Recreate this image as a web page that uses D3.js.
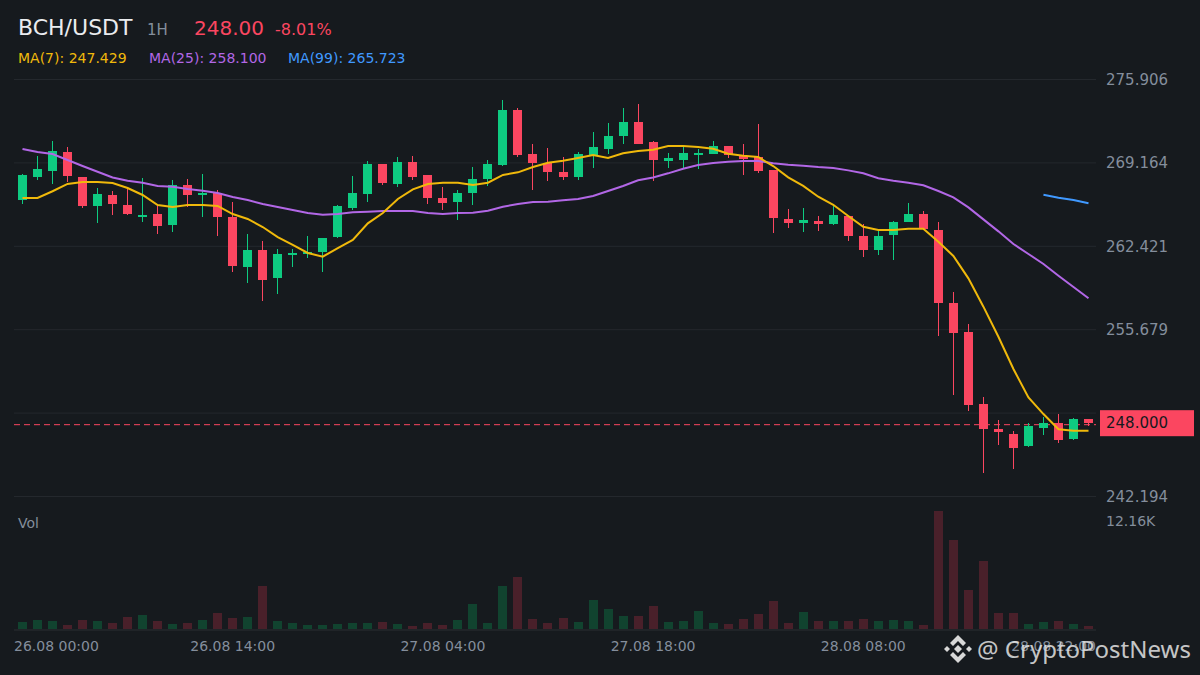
<!DOCTYPE html>
<html>
<head>
<meta charset="utf-8" />
<title>BCH/USDT</title>
<script src="https://cdnjs.cloudflare.com/ajax/libs/d3/7.9.0/d3.min.js"></script>
<style>
  html, body { margin: 0; padding: 0; background: #161a1e; overflow: hidden; }
  svg { display: block; font-family: "DejaVu Sans", sans-serif; }
</style>
</head>
<body>
<div id="svg-container"></div>
<script>
////////////////////////////////////////////////////////////////////
////////////////////////////  Data  ////////////////////////////////
const opens = [266.16,268.02,268.51,270.04,268.02,265.68,266.57,265.76,264.79,265.03,264.14,267.38,266.57,266.73,264.79,260.75,262.12,259.86,261.72,261.80,261.96,263.17,265.52,266.65,269.07,267.46,269.24,268.19,266.33,266.00,266.73,267.86,268.99,273.44,269.88,269.15,268.43,268.02,269.80,270.29,271.34,272.47,270.85,269.32,269.40,269.80,269.88,270.53,269.72,269.64,268.59,264.63,264.30,264.47,264.22,264.87,263.25,262.12,263.34,264.39,265.03,263.74,257.84,255.49,249.67,247.65,247.25,246.28,247.73,248.14,246.84,248.46];
const closes = [268.19,268.67,270.13,268.10,265.68,266.65,265.84,265.03,264.95,264.06,267.38,266.57,266.73,264.79,260.83,262.12,259.70,261.80,261.88,261.96,263.09,265.68,266.73,269.07,267.54,269.24,268.02,266.33,265.92,266.73,267.86,269.07,273.44,269.80,269.15,268.43,268.02,269.88,270.45,271.34,272.47,270.69,269.40,269.56,269.96,269.96,270.53,269.80,269.48,268.51,264.71,264.30,264.55,264.22,264.95,263.25,262.12,263.25,264.39,265.03,263.82,257.84,255.41,249.59,247.65,247.41,246.12,247.89,248.14,246.76,248.46,248.14];
const highs = [268.27,269.72,270.93,270.45,268.02,267.13,266.89,267.05,267.94,265.76,267.78,267.86,268.27,266.97,266.00,263.42,262.85,262.20,262.20,263.25,263.09,265.76,268.10,269.32,269.07,269.64,269.72,268.19,267.21,266.97,268.83,269.40,274.25,273.60,270.69,270.37,269.64,270.04,271.66,272.39,273.60,273.93,270.93,269.96,270.45,270.29,270.93,270.53,270.69,272.31,268.59,265.44,265.52,264.87,265.68,264.87,264.22,263.74,264.47,265.92,265.27,264.39,258.73,256.14,250.24,248.38,247.49,248.14,248.62,248.86,248.54,248.46];
const lows = [265.84,267.78,267.46,267.62,265.52,264.30,264.95,264.95,264.39,263.42,263.58,265.60,264.79,263.25,260.34,259.45,258.00,258.57,260.75,261.48,260.34,263.09,265.36,266.00,267.38,267.21,267.78,265.84,265.36,264.55,265.76,267.30,268.91,269.64,266.97,267.70,267.78,267.78,268.75,269.88,270.69,270.69,267.70,268.75,268.75,268.67,269.88,269.56,268.19,268.35,263.50,263.90,263.58,263.66,264.14,262.85,261.56,261.72,261.31,264.39,263.82,255.17,250.40,249.11,244.09,246.36,244.42,246.20,247.17,246.52,246.76,247.89];
const volumes = [721,927,824,412,927,824,618,1237,1443,824,515,618,927,1649,1134,1237,4431,824,618,412,412,515,618,618,721,515,309,618,412,927,2576,618,4431,5359,1031,618,1134,721,2988,2061,1340,1340,2370,721,824,1855,618,515,1031,1546,2885,618,1752,824,824,824,1031,824,927,824,412,12160,9171,4019,7007,1649,1649,515,721,824,515,309];

const ma7 = [266.33,266.33,266.87,267.46,267.62,267.62,267.54,267.13,266.57,265.76,265.60,265.76,265.76,265.68,265.03,264.63,263.98,263.17,262.53,261.88,261.58,262.28,262.93,264.28,265.11,266.25,267.03,267.46,267.56,267.56,267.38,267.56,268.19,268.40,268.83,269.18,269.34,269.56,269.80,269.56,269.94,270.13,270.23,270.53,270.53,270.45,270.31,269.91,269.75,269.64,268.91,267.99,267.30,266.43,265.78,264.87,264.00,263.74,263.74,263.84,263.84,262.79,261.64,259.83,257.54,255.11,252.50,250.21,248.86,247.63,247.51,247.51];
const ma25 = [270.29,270.04,269.88,269.40,268.91,268.45,267.99,267.72,267.56,267.30,267.24,267.05,266.91,266.73,266.41,266.16,265.84,265.60,265.36,265.11,264.98,265.03,265.17,265.22,265.27,265.27,265.27,265.11,265.03,265.11,265.14,265.30,265.62,265.84,266.00,266.03,266.14,266.25,266.49,266.89,267.30,267.76,267.99,268.32,268.69,268.99,269.15,269.26,269.32,269.32,269.13,269.02,268.94,268.83,268.75,268.56,268.32,267.92,267.72,267.56,267.35,266.89,266.38,265.57,264.60,263.63,262.61,261.80,260.99,260.04,259.13,258.22];
const ma99 = [266.59,266.35,266.16,265.90];
const ma99Start = 68; // MA(99) only has the last few candles

const gridTicks = [275.906, 269.164, 262.421, 255.679, 248.937, 242.194];
const priceLabels = ["275.906", "269.164", "262.421", "255.679", "242.194"]; // 248.937 sits under the last price tag
const timeTicks = [
  { i: 0, label: "26.08 00:00" },
  { i: 14, label: "26.08 14:00" },
  { i: 28, label: "27.08 04:00" },
  { i: 42, label: "27.08 18:00" },
  { i: 56, label: "28.08 08:00" },
  { i: 70, label: "28.08 22:00" },
];
const lastPrice = 248.0;
const volMaxLabel = "12.16K";

const data = d3.range(opens.length).map((i) => ({
  i,
  open: opens[i],
  close: closes[i],
  high: highs[i],
  low: lows[i],
  vol: volumes[i],
}));

////////////////////////////////////////////////////////////////////
////////////////////////////  Init  ////////////////////////////////
const width = 1200;
const height = 675;
const left = 14;
const right = 1096;

const green = "#0ecb81";
const red = "#fb4660";
const greenVol = "#11432f";
const redVol = "#49202a";
const gray = "#848e9c";
const gridColor = "#24282d";

const svg = d3
  .select("#svg-container")
  .append("svg")
  .attr("width", width)
  .attr("height", height)
  .attr("viewBox", `0 0 ${width} ${height}`);

svg.append("rect").attr("width", width).attr("height", height).attr("fill", "#161a1e");

// scale
const xScale = d3
  .scaleLinear()
  .domain([0, data.length - 1])
  .range([22.5, 1088.5]);
const yScale = d3.scaleLinear().domain([242.194, 275.906]).range([496.5, 79.5]);
const volScale = d3.scaleLinear().domain([0, 12160]).range([629, 511]);

const candleW = 9;

////////////////////////////////////////////////////////////////////
////////////////////////////  Header  //////////////////////////////
function headText(x, y, size, color, str) {
  svg
    .append("text")
    .attr("x", x)
    .attr("y", y)
    .attr("font-size", size)
    .attr("fill", color)
    .text(str);
}
headText(18, 35, 22, "#eaecef", "BCH/USDT");
headText(147, 35, 15, gray, "1H");
headText(194, 35, 20, red, "248.00");
headText(275, 35, 16, red, "-8.01%");
headText(18, 63, 14, "#f0b90b", "MA(7): 247.429");
headText(149, 63, 14, "#b267e6", "MA(25): 258.100");
headText(288, 63, 14, "#4099ff", "MA(99): 265.723");

////////////////////////////////////////////////////////////////////
////////////////////////////  Grid & axes  /////////////////////////
svg
  .selectAll("line.grid")
  .data(gridTicks)
  .enter()
  .append("line")
  .attr("class", "grid")
  .attr("x1", left)
  .attr("x2", right)
  .attr("y1", (d) => yScale(d))
  .attr("y2", (d) => yScale(d))
  .attr("stroke", gridColor);

svg
  .selectAll("text.price")
  .data(priceLabels)
  .enter()
  .append("text")
  .attr("class", "price")
  .attr("x", 1106)
  .attr("y", (d) => yScale(+d))
  .attr("dy", "0.35em")
  .attr("font-size", 15)
  .attr("fill", gray)
  .text((d) => d);

// volume baseline
svg
  .append("line")
  .attr("x1", left)
  .attr("x2", right)
  .attr("y1", volScale(0) + 1)
  .attr("y2", volScale(0) + 1)
  .attr("stroke", "#2a2e33");

svg
  .selectAll("text.time")
  .data(timeTicks)
  .enter()
  .append("text")
  .attr("class", "time")
  .attr("x", (d) => (d.i === 0 ? left : d.i === 70 ? right : xScale(d.i)))
  .attr("y", 651)
  .attr("text-anchor", (d) => (d.i === 0 ? "start" : d.i === 70 ? "end" : "middle"))
  .attr("font-size", 14)
  .attr("fill", gray)
  .text((d) => d.label);

headText(18, 528, 14, gray, "Vol");
headText(1106, 526, 14, gray, volMaxLabel);

////////////////////////////////////////////////////////////////////
////////////////////////////  Last price  //////////////////////////
svg
  .append("line")
  .attr("x1", left)
  .attr("x2", right)
  .attr("y1", yScale(lastPrice))
  .attr("y2", yScale(lastPrice))
  .attr("stroke", red)
  .attr("stroke-dasharray", "6 4");

svg
  .append("rect")
  .attr("x", 1100)
  .attr("y", yScale(lastPrice) - 14.5)
  .attr("width", 94)
  .attr("height", 26)
  .attr("fill", red);

svg
  .append("text")
  .attr("x", 1106)
  .attr("y", yScale(lastPrice) - 1.5)
  .attr("dy", "0.35em")
  .attr("font-size", 15)
  .attr("fill", "#161a1e")
  .text(lastPrice.toFixed(3));

////////////////////////////////////////////////////////////////////
////////////////////////////  Volume  //////////////////////////////
svg
  .selectAll("rect.vol")
  .data(data)
  .enter()
  .append("rect")
  .attr("class", "vol")
  .attr("x", (d) => xScale(d.i) - candleW / 2)
  .attr("y", (d) => volScale(d.vol))
  .attr("width", candleW)
  .attr("height", (d) => volScale(0) - volScale(d.vol))
  .attr("shape-rendering", "crispEdges")
  .attr("fill", (d) => (d.close >= d.open ? greenVol : redVol));

////////////////////////////////////////////////////////////////////
////////////////////////////  Candles  /////////////////////////////
svg
  .selectAll("line.wick")
  .data(data)
  .enter()
  .append("line")
  .attr("class", "wick")
  .attr("x1", (d) => xScale(d.i))
  .attr("x2", (d) => xScale(d.i))
  .attr("y1", (d) => yScale(d.high))
  .attr("y2", (d) => yScale(d.low))
  .attr("shape-rendering", "crispEdges")
  .attr("stroke", (d) => (d.close >= d.open ? green : red))
  .attr("stroke-width", 1);

svg
  .selectAll("rect.body")
  .data(data)
  .enter()
  .append("rect")
  .attr("class", "body")
  .attr("x", (d) => xScale(d.i) - candleW / 2)
  .attr("y", (d) => yScale(Math.max(d.open, d.close)))
  .attr("width", candleW)
  .attr("height", (d) => Math.abs(yScale(d.open) - yScale(d.close)))
  .attr("shape-rendering", "crispEdges")
  .attr("fill", (d) => (d.close >= d.open ? green : red));

////////////////////////////////////////////////////////////////////
////////////////////////////  MA lines  ////////////////////////////
const maLine = (start) =>
  d3
    .line()
    .x((d, i) => xScale(i + start))
    .y((d) => yScale(d));

function drawMa(values, start, color) {
  svg
    .append("path")
    .attr("d", maLine(start)(values))
    .attr("fill", "none")
    .attr("stroke", color)
    .attr("stroke-width", 2);
}
drawMa(ma99, ma99Start, "#4099ff");
drawMa(ma25, 0, "#b267e6");
drawMa(ma7, 0, "#f0b90b");

////////////////////////////////////////////////////////////////////
////////////////////////////  Watermark  ///////////////////////////
const mark = svg
  .append("g")
  .attr("transform", "translate(958,649)")
  .attr("fill", "#d8d8d8");
// binance style diamond
[
  "M0,-14 L8,-6 L5,-3 L0,-8 L-5,-3 L-8,-6 Z",
  "M0,14 L8,6 L5,3 L0,8 L-5,3 L-8,6 Z",
  "M-14,0 L-11,-3 L-8,0 L-11,3 Z",
  "M14,0 L11,-3 L8,0 L11,3 Z",
  "M0,-4 L4,0 L0,4 L-4,0 Z",
].forEach((d) => mark.append("path").attr("d", d));

svg
  .append("text")
  .attr("x", 977)
  .attr("y", 658)
  .attr("font-family", "'Noto Sans', sans-serif")
  .attr("font-size", 24)
  .attr("fill", "#e6e6e6")
  .attr("fill-opacity", 0.85)
  .text("@ CryptoPostNews");
</script>
</body>
</html>
